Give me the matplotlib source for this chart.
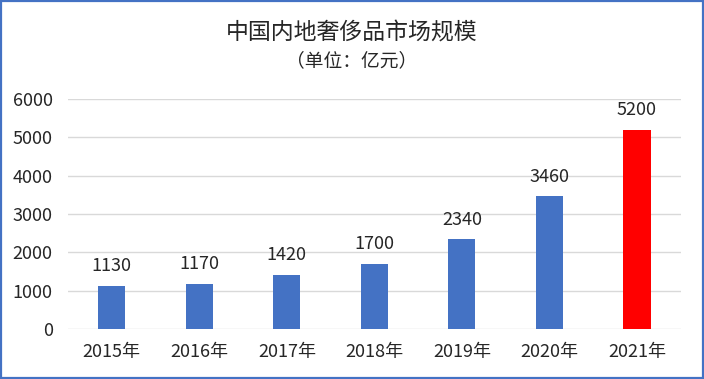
import matplotlib.pyplot as plt
from matplotlib.patches import Rectangle

plt.rcParams['font.family'] = ['Noto Sans CJK SC', 'DejaVu Sans']

years = ['2015年', '2016年', '2017年', '2018年', '2019年', '2020年', '2021年']
values = [1130, 1170, 1420, 1700, 2340, 3460, 5200]
colors = ['#4472C4'] * 6 + ['#FF0000']

fig = plt.figure(figsize=(7.04, 3.79), dpi=100)
ax = fig.add_axes([0.0966, 0.132, 0.8704, 0.607])

x = range(len(years))
bars = ax.bar(x, values, width=0.31, color=colors, zorder=3)
for xi, v in zip(x, values):
    ax.text(xi, v + 280, str(v), ha='center', va='bottom', fontsize=13, color='#262626')

ax.set_xlim(-0.5, len(years) - 0.5)
ax.set_ylim(0, 6000)
ax.set_yticks(range(0, 6001, 1000))
ax.set_xticks(list(x))
ax.set_xticklabels(years)
ax.tick_params(axis='both', length=0, labelsize=13, colors='#262626')
ax.tick_params(axis='y', pad=11)
ax.tick_params(axis='x', pad=10)
ax.grid(axis='y', color='#D9D9D9', linewidth=1, zorder=0)
for s in ax.spines.values():
    s.set_visible(False)

fig.text(0.5, 0.912, '中国内地奢侈品市场规模', ha='center', va='center', fontsize=16.5, color='#262626')
fig.text(0.5, 0.840, '（单位：亿元）', ha='center', va='center', fontsize=13.5, color='#262626')

fig.patches.append(Rectangle((0.002, 0.003), 0.996, 0.994, transform=fig.transFigure,
                             fill=False, edgecolor='#4472C4', linewidth=1.6))

fig.savefig('out.png', dpi=100)
